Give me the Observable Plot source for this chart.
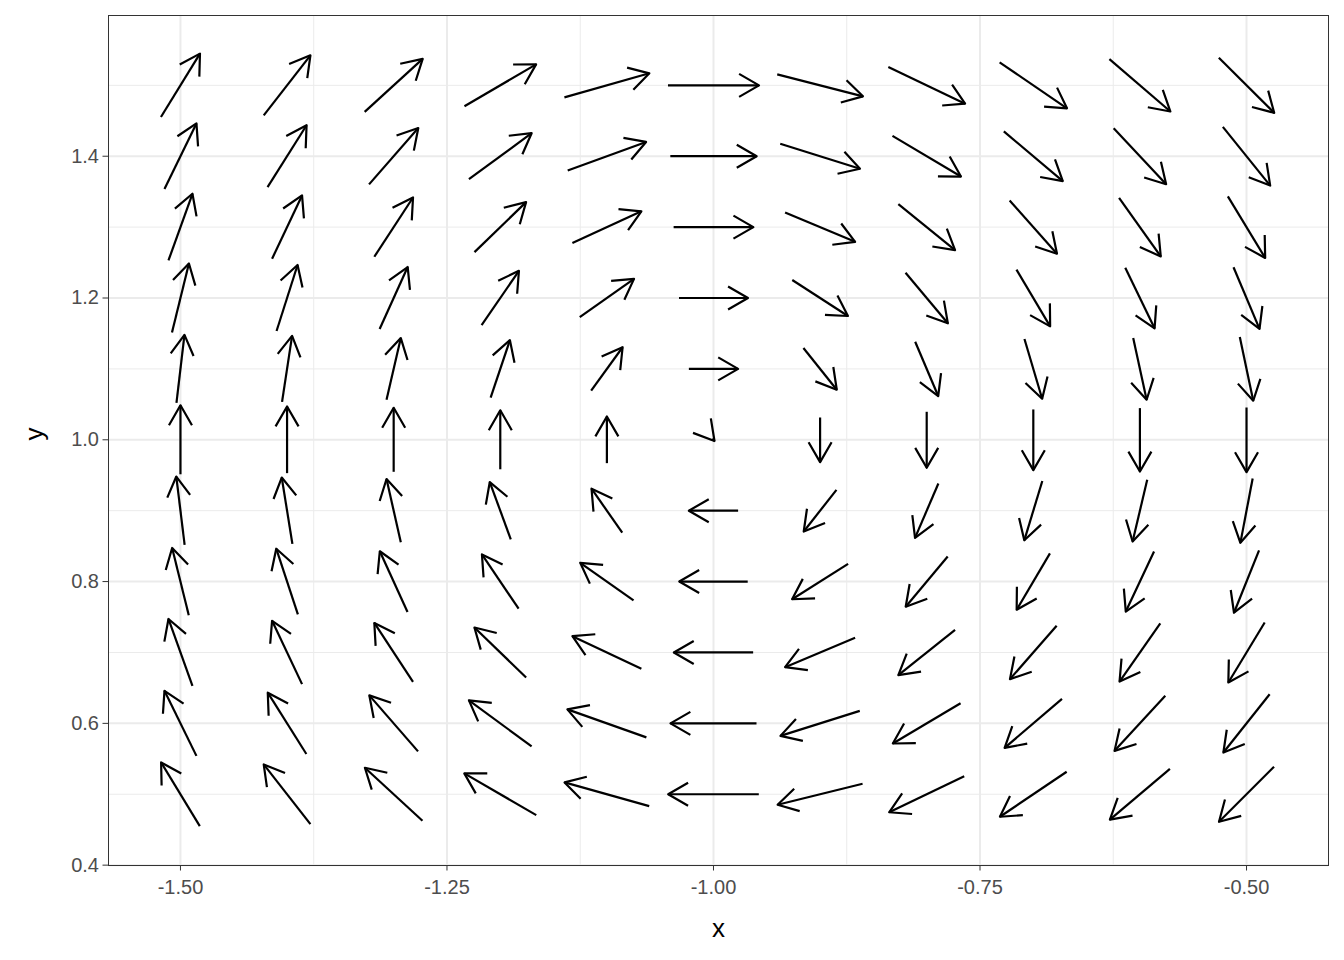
<!DOCTYPE html>
<html>
<head>
<meta charset="utf-8">
<script src="https://cdn.jsdelivr.net/npm/d3@7"></script>
<script src="https://cdn.jsdelivr.net/npm/@observablehq/plot@0.6"></script>
<style>
  html, body { margin: 0; padding: 0; background: #ffffff; }
  #chart { width: 1344px; height: 960px; }
</style>
</head>
<body>
<div id="chart"></div>
<script>
// Grid positions of the vector field
const xs = [-1.5, -1.4, -1.3, -1.2, -1.1, -1.0, -0.9, -0.8, -0.7, -0.6, -0.5];
const ys = [1.5, 1.4, 1.3, 1.2, 1.1, 1.0, 0.9, 0.8, 0.7, 0.6, 0.5];

// Horizontal components (one row per y value, columns follow xs)
const U = [
  [0.0366, 0.0438, 0.0544, 0.0672, 0.0797, 0.0854, 0.0804, 0.0720, 0.0632, 0.0572, 0.0519],
  [0.0300, 0.0366, 0.0462, 0.0588, 0.0735, 0.0810, 0.0748, 0.0642, 0.0553, 0.0492, 0.0444],
  [0.0225, 0.0281, 0.0363, 0.0484, 0.0647, 0.0748, 0.0657, 0.0532, 0.0444, 0.0391, 0.0350],
  [0.0159, 0.0197, 0.0263, 0.0350, 0.0509, 0.0647, 0.0522, 0.0397, 0.0316, 0.0275, 0.0244],
  [0.0075, 0.0094, 0.0134, 0.0181, 0.0295, 0.0462, 0.0313, 0.0216, 0.0166, 0.0126, 0.0126],
  [0.0000, 0.0000, 0.0000, 0.0000, 0.0000, 0.0019, 0.0000, 0.0000, 0.0000, 0.0000, 0.0000],
  [-0.0078, -0.0100, -0.0134, -0.0197, -0.0288, -0.0462, -0.0307, -0.0219, -0.0169, -0.0137, -0.0115],
  [-0.0156, -0.0203, -0.0260, -0.0344, -0.0500, -0.0642, -0.0525, -0.0394, -0.0312, -0.0265, -0.0235],
  [-0.0225, -0.0281, -0.0363, -0.0485, -0.0647, -0.0744, -0.0657, -0.0532, -0.0438, -0.0382, -0.0341],
  [-0.0300, -0.0362, -0.0457, -0.0588, -0.0741, -0.0807, -0.0744, -0.0635, -0.0538, -0.0476, -0.0434],
  [-0.0363, -0.0438, -0.0540, -0.0675, -0.0794, -0.0850, -0.0797, -0.0704, -0.0626, -0.0563, -0.0516]
];

// Vertical components (one row per y value, columns follow xs)
const V = [
  [0.0894, 0.0846, 0.0748, 0.0592, 0.0339, 0.0000, -0.0310, -0.0518, -0.0649, -0.0739, -0.0776],
  [0.0925, 0.0874, 0.0794, 0.0649, 0.0403, 0.0000, -0.0353, -0.0574, -0.0701, -0.0790, -0.0828],
  [0.0941, 0.0893, 0.0836, 0.0705, 0.0446, 0.0000, -0.0415, -0.0649, -0.0752, -0.0828, -0.0869],
  [0.0973, 0.0931, 0.0874, 0.0766, 0.0540, 0.0000, -0.0508, -0.0714, -0.0800, -0.0855, -0.0869],
  [0.0959, 0.0931, 0.0870, 0.0810, 0.0611, 0.0000, -0.0588, -0.0766, -0.0842, -0.0870, -0.0898],
  [0.0973, 0.0941, 0.0903, 0.0832, 0.0659, -0.0035, -0.0629, -0.0790, -0.0856, -0.0894, -0.0911],
  [0.0963, 0.0935, 0.0893, 0.0808, 0.0621, 0.0000, -0.0588, -0.0766, -0.0836, -0.0870, -0.0907],
  [0.0949, 0.0927, 0.0856, 0.0766, 0.0530, 0.0000, -0.0498, -0.0709, -0.0794, -0.0846, -0.0879],
  [0.0945, 0.0893, 0.0832, 0.0705, 0.0460, 0.0000, -0.0415, -0.0639, -0.0752, -0.0822, -0.0846],
  [0.0917, 0.0865, 0.0790, 0.0649, 0.0395, 0.0000, -0.0353, -0.0568, -0.0691, -0.0776, -0.0822],
  [0.0898, 0.0842, 0.0748, 0.0588, 0.0334, 0.0000, -0.0296, -0.0508, -0.0635, -0.0715, -0.0776]
];

// Axis ticks and grid
const xTicks = [-1.5, -1.25, -1.0, -0.75, -0.5];
const yTicks = [0.4, 0.6, 0.8, 1.0, 1.2, 1.4];
const xMinor = [-1.375, -1.125, -0.875, -0.625];
const yMinor = [0.5, 0.7, 0.9, 1.1, 1.3, 1.5];
const xTitle = "x";
const yTitle = "y";

// Table of arrows, each centred on its grid point
const field = [];
ys.forEach((y, i) => {
  xs.forEach((x, j) => {
    const u = U[i][j], v = V[i][j];
    field.push({x, y, u, v, x1: x - u / 2, y1: y - v / 2, x2: x + u / 2, y2: y + v / 2});
  });
});

const FONT = "'Liberation Sans', Arial, Helvetica, sans-serif";

function headMarker(color) {
  const ns = "http://www.w3.org/2000/svg";
  const m = document.createElementNS(ns, "marker");
  m.setAttribute("viewBox", "-30 -30 60 60");
  m.setAttribute("markerWidth", 60);
  m.setAttribute("markerHeight", 60);
  m.setAttribute("markerUnits", "userSpaceOnUse");
  m.setAttribute("orient", "auto");
  m.setAttribute("refX", 0);
  m.setAttribute("refY", 0);
  m.setAttribute("overflow", "visible");
  const p = document.createElementNS(ns, "path");
  p.setAttribute("d", "M-19.9,-11.5L0,0L-19.9,11.5");
  p.setAttribute("fill", "none");
  p.setAttribute("stroke", color);
  p.setAttribute("stroke-width", 2.2);
  p.setAttribute("stroke-linecap", "butt");
  p.setAttribute("stroke-linejoin", "round");
  m.appendChild(p);
  return m;
}

function build(useMarker) {
  const arrows = useMarker
    ? Plot.link(field, {x1: "x1", y1: "y1", x2: "x2", y2: "y2", stroke: "black", strokeWidth: 2.2, markerEnd: headMarker})
    : Plot.arrow(field, {x1: "x1", y1: "y1", x2: "x2", y2: "y2", stroke: "black", strokeWidth: 2.2, headLength: 15.7, headAngle: 60});
  return Plot.plot({
    width: 1344,
    height: 960,
    marginLeft: 108,
    marginRight: 16,
    marginTop: 15,
    marginBottom: 95,
    style: {background: "white", fontFamily: FONT, fontSize: "20px", color: "#4D4D4D"},
    x: {domain: [-1.5675, -0.4231], label: null},
    y: {domain: [0.3995, 1.5985], label: null},
    marks: [
      Plot.ruleX(xMinor, {stroke: "#EBEBEB", strokeWidth: 1}),
      Plot.ruleY(yMinor, {stroke: "#EBEBEB", strokeWidth: 1}),
      Plot.ruleX(xTicks, {stroke: "#EBEBEB", strokeWidth: 2}),
      Plot.ruleY(yTicks, {stroke: "#EBEBEB", strokeWidth: 2}),
      arrows,
      Plot.frame({stroke: "#333333", strokeWidth: 1}),
      Plot.axisX(xTicks, {tickFormat: d => d.toFixed(2), tickSize: 5.5, tickPadding: 9, fontSize: 20, stroke: "#333333", fill: "#4D4D4D", label: null}),
      Plot.axisY(yTicks, {tickFormat: d => d.toFixed(1), tickSize: 5.5, tickPadding: 4, fontSize: 20, stroke: "#333333", fill: "#4D4D4D", label: null}),
      Plot.text([xTitle], {frameAnchor: "bottom", dy: 63, fontSize: 26, fill: "black", lineAnchor: "middle"}),
      Plot.text([yTitle], {frameAnchor: "left", dx: -74, rotate: -90, fontSize: 26, fill: "black", lineAnchor: "middle"})
    ]
  });
}

let chart;
try {
  chart = build(true);
} catch (e) {
  chart = build(false);
}
document.getElementById("chart").appendChild(chart);
</script>
</body>
</html>
